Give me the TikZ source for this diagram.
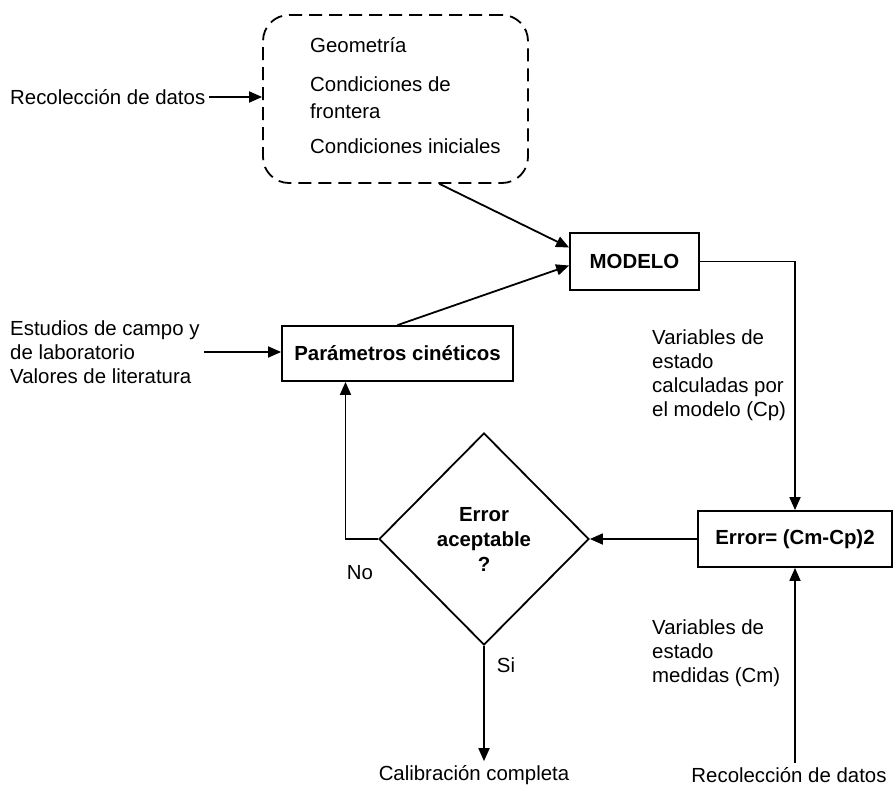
\documentclass[tikz,border=0pt]{standalone}
\usepackage{fontspec}
\setmainfont{Liberation Sans}
\usetikzlibrary{shapes.geometric,arrows.meta}
\begin{document}
\begin{tikzpicture}[x=1pt,y=-1pt,
  font=\fontsize{20.4}{24}\selectfont,
  every node/.style={inner sep=4pt},
  box/.style={draw,line width=1.8pt,rectangle,inner sep=0pt,font=\fontsize{20.4}{24}\selectfont\bfseries},
  dbox/.style={draw,line width=1.8pt,rectangle,rounded corners=26pt,dash pattern=on 13pt off 7pt},
  txt/.style={align=left},
  arr/.style={line width=1.8pt,-{Triangle[length=13pt,width=11pt]}},
  ln/.style={line width=1.8pt}]
\useasboundingbox (0,0) rectangle (894,787);
% nodes
\node[dbox,minimum width=265pt,minimum height=168pt] (geo) at (395.5,99) {};
\node[txt,anchor=west,inner sep=0pt] (geotext) at (310,96) {Geometría\\[15pt]Condiciones de\\[3pt]frontera\\[11pt]Condiciones iniciales};
\node[anchor=west] (rec1) at (6,97) {Recolección de datos};
\node[box,minimum width=129pt,minimum height=57pt] (modelo) at (634.5,261.5) {MODELO};
\node[box,minimum width=231pt,minimum height=55pt] (param) at (397.5,353.5) {Parámetros cinéticos};
\node[txt,anchor=west] (est) at (6,352) {Estudios de campo y\\de laboratorio\\Valores de literatura};
\node[box,minimum width=194pt,minimum height=56pt] (err) at (795,539) {Error= (Cm-Cp)2};
\node[draw,diamond,aspect=1,line width=1.8pt,minimum width=210pt,minimum height=212pt,inner sep=0pt,align=center,font=\fontsize{20.4}{25}\selectfont\bfseries] (d) at (484,539) {Error\\aceptable\\?};
\node[txt,anchor=north west] (vcp) at (648,326) {Variables de\\estado\\calculadas por\\el modelo (Cp)};
\node[txt,anchor=north west] (vcm) at (648,616) {Variables de\\estado\\medidas (Cm)};
\node (no) at (360,573) {No};
\node (si) at (506,665) {Si};
\node (calib) at (474,775) {Calibración completa};
\node (rec2) at (789,775) {Recolección de datos};
% connectors
\draw[arr] (rec1.east) -- (rec1.east -| geo.west);
\draw[arr] ([xshift=44pt]geo.south) -- ([yshift=14pt]modelo.west);
\draw[arr] (param.north) -- ([yshift=-4pt]modelo.west);
\draw[arr] (est.east) -- (est.east -| param.west);
\draw[arr] (modelo.east) -| (err.north);
\draw[arr] (err.west) -- (d.east);
\draw[arr] (d.west) -| ([xshift=-52pt]param.south);
\draw[arr] (d.south) -- (d.south |- calib.north);
\draw[arr] (err.south |- rec2.north) -- (err.south);
\end{tikzpicture}
\end{document}
